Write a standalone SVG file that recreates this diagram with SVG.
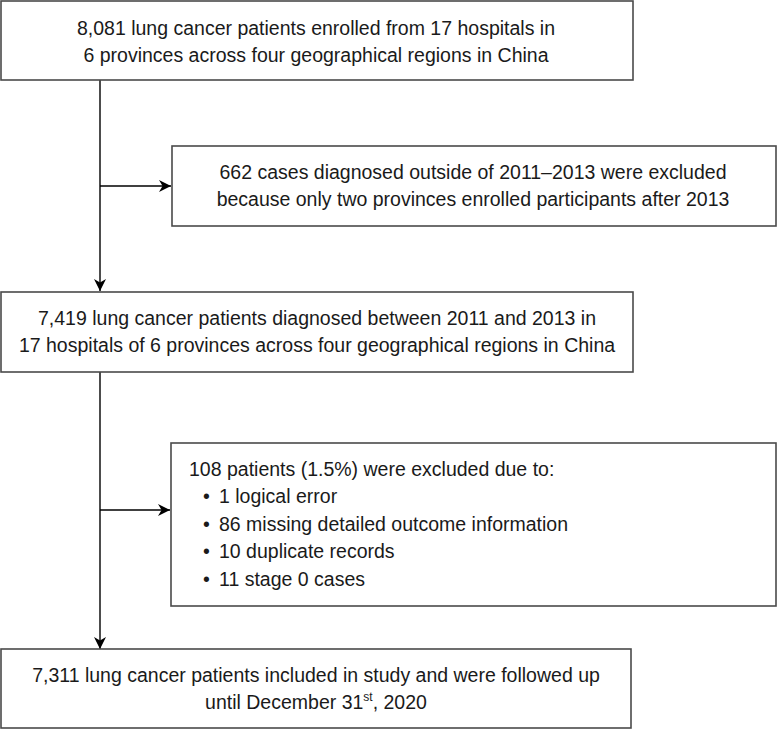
<svg xmlns="http://www.w3.org/2000/svg" width="777" height="730" viewBox="0 0 777 730">
<style>
.box{fill:#fff;stroke:#4a4a4a;stroke-width:1.6}
.t{font-family:"Liberation Sans",Arial,sans-serif;font-size:19.5px;fill:#1a1a1a}
.c{text-anchor:middle}
.ln{stroke:#000;stroke-width:1.4;fill:none}
</style>
<defs>
<marker id="ah" viewBox="0 0 10 10" refX="10" refY="5" markerWidth="12" markerHeight="12" markerUnits="userSpaceOnUse" orient="auto">
<path d="M0,0 L10,5 L0,10 L3,5 Z" fill="#000"/>
</marker>
</defs>
<g id="connectors">
<line class="ln" x1="100" y1="80" x2="100" y2="291" marker-end="url(#ah)"/>
<line class="ln" x1="100" y1="186" x2="171" y2="186" marker-end="url(#ah)"/>
<line class="ln" x1="100" y1="372" x2="100" y2="649" marker-end="url(#ah)"/>
<line class="ln" x1="100" y1="510" x2="170" y2="510" marker-end="url(#ah)"/>
</g>
<g id="n1">
<rect class="box" x="1" y="1" width="632" height="79"/>
<text class="t c" x="316" y="35">8,081 lung cancer patients enrolled from 17 hospitals in</text>
<text class="t c" x="316" y="62">6 provinces across four geographical regions in China</text>
</g>
<g id="n2">
<rect class="box" x="172" y="146" width="604" height="80"/>
<text class="t c" x="473" y="179">662 cases diagnosed outside of 2011–2013 were excluded</text>
<text class="t c" x="473" y="206">because only two provinces enrolled participants after 2013</text>
</g>
<g id="n3">
<rect class="box" x="1" y="292" width="632" height="80"/>
<text class="t c" x="317" y="325">7,419 lung cancer patients diagnosed between 2011 and 2013 in</text>
<text class="t c" x="317" y="352">17 hospitals of 6 provinces across four geographical regions in China</text>
</g>
<g id="n4">
<rect class="box" x="171" y="443" width="605" height="163"/>
<text class="t" x="189" y="476">108 patients (1.5%) were excluded due to:</text>
<text class="t" y="503"><tspan x="203">•</tspan><tspan x="219">1 logical error</tspan></text>
<text class="t" y="531"><tspan x="203">•</tspan><tspan x="219">86 missing detailed outcome information</tspan></text>
<text class="t" y="558"><tspan x="203">•</tspan><tspan x="219">10 duplicate records</tspan></text>
<text class="t" y="586"><tspan x="203">•</tspan><tspan x="219">11 stage 0 cases</tspan></text>
</g>
<g id="n5">
<rect class="box" x="1" y="649" width="630" height="79"/>
<text class="t c" x="316" y="682">7,311 lung cancer patients included in study and were followed up</text>
<text class="t c" x="316" y="709">until December 31<tspan font-size="12" dy="-8">st</tspan><tspan dy="8">, 2020</tspan></text>
</g>
</svg>
